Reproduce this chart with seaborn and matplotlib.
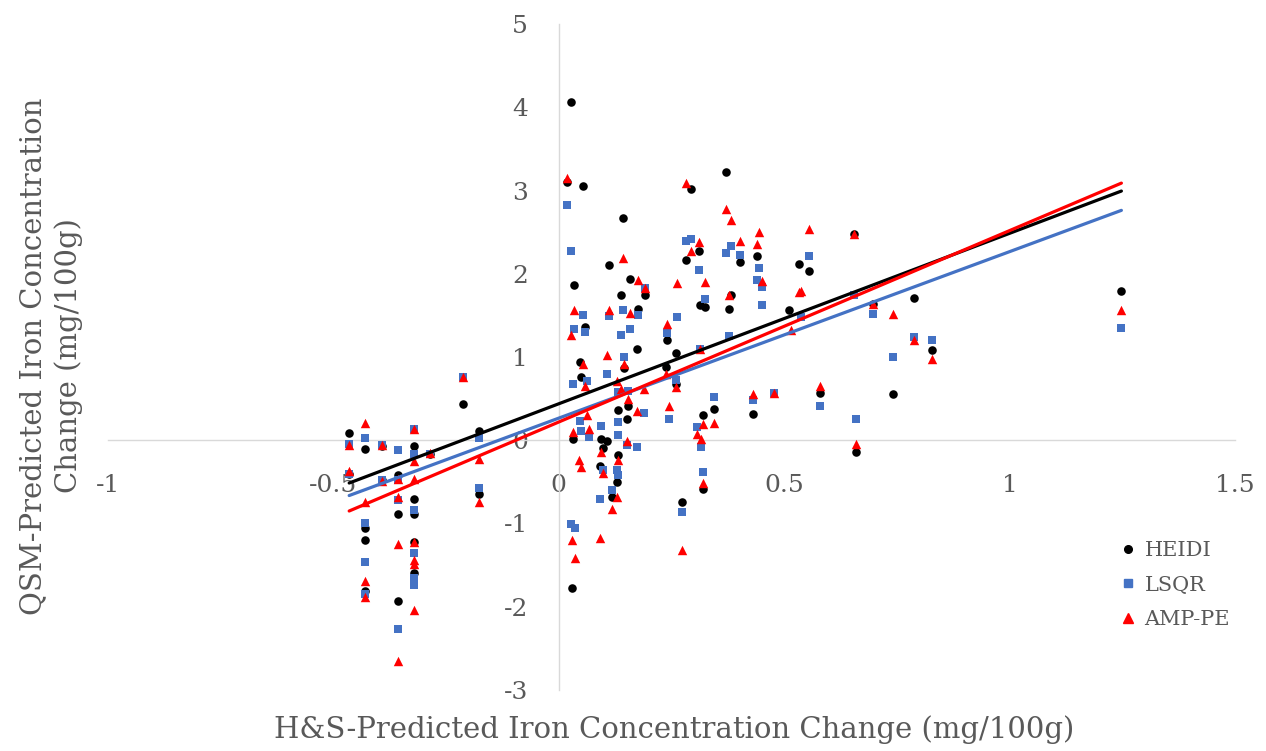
import numpy as np
import pandas as pd
import matplotlib
matplotlib.use("Agg")
import matplotlib.pyplot as plt
import seaborn as sns

# ---------------- data ----------------
heidi_x = [-0.465, -0.465, -0.430, -0.430, -0.430, -0.430, -0.393, -0.393, -0.356, -0.356,
           -0.356, -0.321, -0.321, -0.321, -0.321, -0.321, -0.285, -0.212, -0.178, -0.178,
           0.028, 0.019, 0.054, 0.142, 0.112, 0.034, 0.158, 0.138, 0.191, 0.176,
           0.058, 0.173, 0.145, 0.047, 0.050, 0.132, 0.154, 0.152, 0.032, 0.093,
           0.108, 0.097, 0.132, 0.092, 0.130, 0.118, 0.030,
           0.293, 0.372, 0.311, 0.283, 0.402, 0.439, 0.532, 0.313, 0.325, 0.383,
           0.378, 0.511, 0.240, 0.261, 0.237, 0.261, 0.345, 0.319, 0.430, 0.319,
           0.274, 0.555, 0.654, 0.698, 0.787, 0.827, 0.742, 0.579, 0.659, 1.248]
heidi_y = [0.09, -0.40, -0.10, -1.06, -1.20, -1.81, -0.07, -0.48, -0.42, -0.89,
           -1.93, -0.07, -0.70, -0.89, -1.22, -1.60, -0.17, 0.44, 0.11, -0.65,
           4.06, 3.10, 3.05, 2.67, 2.10, 1.87, 1.94, 1.74, 1.74, 1.58,
           1.36, 1.10, 0.87, 0.94, 0.76, 0.36, 0.41, 0.26, 0.01, 0.02,
           -0.01, -0.09, -0.18, -0.31, -0.50, -0.68, -1.78,
           3.02, 3.22, 2.27, 2.17, 2.14, 2.21, 2.12, 1.63, 1.60, 1.74,
           1.58, 1.56, 1.20, 1.05, 0.88, 0.68, 0.38, 0.30, 0.31, -0.58,
           -0.74, 2.03, 2.48, 1.64, 1.71, 1.09, 0.55, 0.57, -0.14, 1.79]

lsqr_x = [-0.465, -0.465, -0.430, -0.430, -0.430, -0.430, -0.393, -0.393, -0.356, -0.356,
          -0.356, -0.356, -0.321, -0.321, -0.321, -0.321, -0.321, -0.321, -0.285, -0.212,
          -0.178, -0.178,
          0.019, 0.028, 0.191, 0.054, 0.112, 0.142, 0.176, 0.034, 0.158, 0.058,
          0.138, 0.145, 0.108, 0.062, 0.032, 0.132, 0.154, 0.188, 0.047, 0.050,
          0.067, 0.093, 0.132, 0.132, 0.151, 0.173, 0.097, 0.130, 0.132, 0.118,
          0.092, 0.028, 0.035,
          0.283, 0.293, 0.383, 0.372, 0.402, 0.443, 0.439, 0.450, 0.311, 0.325,
          0.450, 0.262, 0.240, 0.378, 0.313, 0.261, 0.245, 0.345, 0.306, 0.315,
          0.319, 0.274, 0.430, 0.478, 0.555, 0.654, 0.698, 0.787, 0.827, 0.742,
          0.579, 0.660, 0.537, 1.248]
lsqr_y = [-0.05, -0.40, 0.03, -0.99, -1.46, -1.85, -0.06, -0.48, -0.12, -0.48,
          -0.72, -2.27, 0.14, -0.16, -0.84, -1.36, -1.66, -1.74, -0.16, 0.76,
          0.03, -0.57,
          2.82, 2.27, 1.83, 1.51, 1.49, 1.56, 1.50, 1.34, 1.34, 1.30,
          1.27, 1.00, 0.80, 0.71, 0.67, 0.58, 0.59, 0.33, 0.23, 0.11,
          0.04, 0.17, 0.22, 0.06, -0.06, -0.08, -0.36, -0.36, -0.42, -0.60,
          -0.71, -1.01, -1.05,
          2.39, 2.42, 2.33, 2.25, 2.23, 2.07, 1.93, 1.84, 2.04, 1.70,
          1.62, 1.48, 1.29, 1.25, 1.10, 0.72, 0.25, 0.52, 0.16, -0.08,
          -0.38, -0.86, 0.48, 0.57, 2.21, 1.74, 1.52, 1.24, 1.20, 1.00,
          0.41, 0.25, 1.48, 1.35]

amppe_x = [-0.465, -0.465, -0.430, -0.430, -0.430, -0.430, -0.393, -0.393, -0.356, -0.356,
           -0.356, -0.356, -0.321, -0.321, -0.321, -0.321, -0.321, -0.321, -0.321, -0.285,
           -0.212, -0.178, -0.178,
           0.019, 0.142, 0.176, 0.191, 0.034, 0.112, 0.158, 0.028, 0.108, 0.145,
           0.054, 0.058, 0.130, 0.138, 0.154, 0.188, 0.173, 0.062, 0.067, 0.032,
           0.151, 0.093, 0.132, 0.045, 0.050, 0.097, 0.130, 0.118, 0.030, 0.092,
           0.035,
           0.282, 0.372, 0.383, 0.443, 0.439, 0.311, 0.293, 0.402, 0.450, 0.325,
           0.262, 0.378, 0.532, 0.240, 0.313, 0.237, 0.261, 0.245, 0.345, 0.319,
           0.306, 0.315, 0.319, 0.274, 0.430, 0.478, 0.555, 0.654, 0.537, 0.515,
           0.698, 0.742, 0.787, 0.827, 0.579, 0.659, 1.248]
amppe_y = [-0.06, -0.37, 0.21, -0.74, -1.69, -1.88, -0.06, -0.49, -0.47, -0.68,
           -1.25, -2.65, 0.14, -0.25, -0.47, -1.22, -1.44, -1.49, -2.04, -0.15,
           0.76, -0.22, -0.74,
           3.15, 2.19, 1.93, 1.83, 1.56, 1.56, 1.53, 1.26, 1.03, 0.92,
           0.91, 0.65, 0.71, 0.62, 0.49, 0.62, 0.35, 0.30, 0.14, 0.10,
           -0.01, -0.14, -0.24, -0.24, -0.32, -0.39, -0.68, -0.83, -1.20, -1.18,
           -1.42,
           3.09, 2.78, 2.65, 2.50, 2.36, 2.38, 2.27, 2.39, 1.91, 1.90,
           1.89, 1.75, 1.78, 1.40, 1.10, 0.80, 0.64, 0.41, 0.21, 0.20,
           0.08, 0.02, -0.51, -1.32, 0.56, 0.57, 2.54, 2.48, 1.79, 1.32,
           1.64, 1.52, 1.20, 0.98, 0.65, -0.04, 1.56]

series_names = ["HEIDI", "LSQR", "AMP-PE"]
x_ticks = [-1, -0.5, 0, 0.5, 1, 1.5]
x_tick_labels = ["-1", "-0.5", "0", "0.5", "1", "1.5"]
y_ticks = [-3, -2, -1, 0, 1, 2, 3, 4, 5]
x_title = "H&S-Predicted Iron Concentration Change (mg/100g)"
y_title = "QSM-Predicted Iron Concentration\nChange (mg/100g)"

# ---------------- styling ----------------
sns.set_theme(style="white")
plt.rcParams["font.family"] = ["DejaVu Serif", "DejaVu Sans"]
TEXT = "#595959"
AXIS = "#d9d9d9"
colors = {"HEIDI": "#000000", "LSQR": "#4472C4", "AMP-PE": "#FF0000"}
markers = {"HEIDI": "o", "LSQR": "s", "AMP-PE": "^"}
sizes = {"HEIDI": 38, "LSQR": 34, "AMP-PE": 46}

df = pd.concat([
    pd.DataFrame({"x": heidi_x, "y": heidi_y, "method": "HEIDI"}),
    pd.DataFrame({"x": lsqr_x, "y": lsqr_y, "method": "LSQR"}),
    pd.DataFrame({"x": amppe_x, "y": amppe_y, "method": "AMP-PE"}),
], ignore_index=True)

W, H = 1266, 751
fig = plt.figure(figsize=(W / 100, H / 100), dpi=100)
ax = fig.add_axes([108 / W, 1 - 690 / H, (1235 - 108) / W, 666 / H])
ax.set_facecolor("white")

handles = []
for name in series_names:
    sub = df[df["method"] == name]
    sns.scatterplot(data=sub, x="x", y="y", ax=ax, color=colors[name],
                    marker=markers[name], s=sizes[name], linewidth=0,
                    zorder=3, legend=False)
    sns.regplot(data=sub, x="x", y="y", ax=ax, scatter=False, ci=None,
                truncate=True, color=colors[name],
                line_kws={"linewidth": 2.3, "zorder": 4})
    handles.append(plt.Line2D([], [], linestyle="none", marker=markers[name],
                              color=colors[name],
                              markersize=5.5 if name != "AMP-PE" else 6.5,
                              label=name))

ax.set_xlim(-1, 1.5)
ax.set_ylim(-3, 5)
ax.set_xticks(x_ticks)
ax.set_xticklabels(x_tick_labels)
ax.set_yticks(y_ticks)
ax.set_yticklabels([str(v) for v in y_ticks])
for side in ["top", "right"]:
    ax.spines[side].set_visible(False)
ax.spines["bottom"].set_position(("data", 0))
ax.spines["left"].set_position(("data", 0))
for side in ["bottom", "left"]:
    ax.spines[side].set_color(AXIS)
    ax.spines[side].set_linewidth(1.0)
    ax.spines[side].set_zorder(1)
ax.tick_params(axis="x", length=0, pad=24, labelsize=18, labelcolor=TEXT)
ax.tick_params(axis="y", length=0, pad=22, labelsize=18, labelcolor=TEXT)
ax.set_xlabel("")
ax.set_ylabel("")
ax.grid(False)

fig.text(674 / W, 1 - 730 / H, x_title, ha="center", va="center",
         fontsize=21, color=TEXT)
fig.text(51 / W, 1 - 356 / H, y_title, ha="center", va="center",
         rotation=90, fontsize=21, color=TEXT, multialignment="center",
         linespacing=1.32)

leg = ax.legend(handles=handles, loc="center left", frameon=False,
                bbox_to_anchor=(1110 / W, 1 - 585 / H),
                bbox_transform=fig.transFigure,
                handlelength=0.7, handletextpad=0.45, labelspacing=0.75,
                fontsize=15, borderpad=0)
for t in leg.get_texts():
    t.set_color(TEXT)

fig.savefig("out.png", dpi=100)
